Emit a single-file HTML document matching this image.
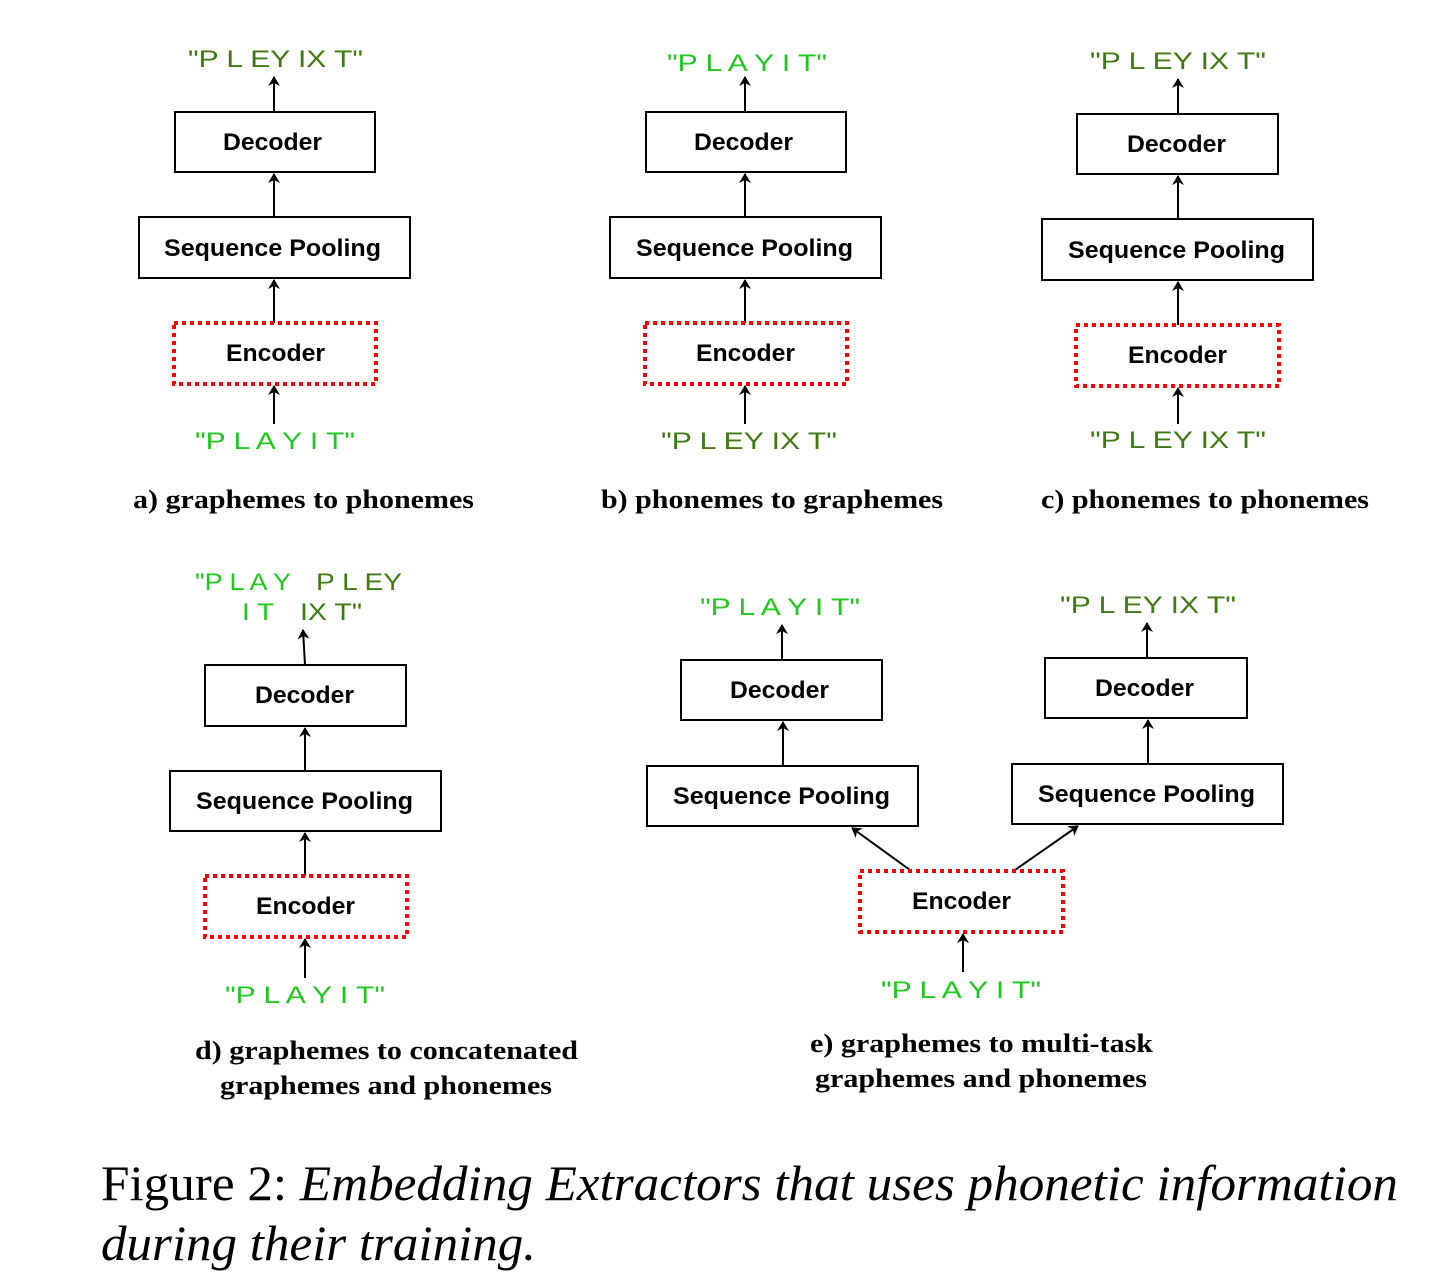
<!DOCTYPE html>
<html><head><meta charset="utf-8"><style>
html,body{margin:0;padding:0;background:#fff;width:1455px;height:1280px;overflow:hidden}
svg{display:block}
.bx{font-family:"Liberation Sans",sans-serif;font-weight:bold;font-size:24px;fill:#000}
.g{font-family:"Liberation Sans",sans-serif;font-size:24px;fill:#1ec81e}
.d{font-family:"Liberation Sans",sans-serif;font-size:24px;fill:#3f7a10}
.cap{font-family:"Liberation Serif",serif;font-weight:bold;font-size:26px;fill:#000}
.fig{font-family:"Liberation Serif",serif;font-size:50px;fill:#000}
</style></head><body>
<svg width="1455" height="1280" viewBox="0 0 1455 1280" xmlns="http://www.w3.org/2000/svg">
<defs><marker id="a" markerWidth="10" markerHeight="12" refX="9" refY="6" orient="auto" markerUnits="userSpaceOnUse"><path d="M0,0 L10,6 L0,12 L3,6 z" fill="#000"/></marker></defs>
<g fill="none" stroke="#000" stroke-width="2">
<!-- a -->
<rect x="175" y="112" width="200" height="60"/><rect x="139" y="217" width="271" height="61"/>
<line x1="274" y1="112" x2="274" y2="77" marker-end="url(#a)"/>
<line x1="274" y1="217" x2="274" y2="174" marker-end="url(#a)"/>
<line x1="274" y1="323" x2="274" y2="280" marker-end="url(#a)"/>
<line x1="274" y1="424" x2="274" y2="386" marker-end="url(#a)"/>
<!-- b -->
<rect x="646" y="112" width="200" height="60"/><rect x="610" y="217" width="271" height="61"/>
<line x1="745" y1="112" x2="745" y2="77" marker-end="url(#a)"/>
<line x1="745" y1="217" x2="745" y2="174" marker-end="url(#a)"/>
<line x1="745" y1="323" x2="745" y2="280" marker-end="url(#a)"/>
<line x1="745" y1="424" x2="745" y2="386" marker-end="url(#a)"/>
<!-- c -->
<rect x="1077" y="114" width="201" height="60"/><rect x="1042" y="219" width="271" height="61"/>
<line x1="1178" y1="114" x2="1178" y2="79" marker-end="url(#a)"/>
<line x1="1178" y1="219" x2="1178" y2="176" marker-end="url(#a)"/>
<line x1="1178" y1="325" x2="1178" y2="282" marker-end="url(#a)"/>
<line x1="1178" y1="424" x2="1178" y2="388" marker-end="url(#a)"/>
<!-- d -->
<rect x="205" y="665" width="201" height="61"/><rect x="170" y="771" width="271" height="60"/>
<line x1="305" y1="665" x2="303" y2="630" marker-end="url(#a)"/>
<line x1="305" y1="771" x2="305" y2="728" marker-end="url(#a)"/>
<line x1="305" y1="876" x2="305" y2="833" marker-end="url(#a)"/>
<line x1="305" y1="978" x2="305" y2="939" marker-end="url(#a)"/>
<!-- e -->
<rect x="681" y="660" width="201" height="60"/><rect x="647" y="766" width="271" height="60"/>
<rect x="1045" y="658" width="202" height="60"/><rect x="1012" y="764" width="271" height="60"/>
<line x1="782" y1="660" x2="782" y2="625" marker-end="url(#a)"/>
<line x1="783" y1="766" x2="783" y2="722" marker-end="url(#a)"/>
<line x1="1147" y1="658" x2="1147" y2="623" marker-end="url(#a)"/>
<line x1="1148" y1="764" x2="1148" y2="720" marker-end="url(#a)"/>
<line x1="910" y1="870" x2="852" y2="828" marker-end="url(#a)"/>
<line x1="1015" y1="870" x2="1078" y2="826" marker-end="url(#a)"/>
<line x1="963" y1="972" x2="963" y2="934" marker-end="url(#a)"/>
</g>
<g fill="none" stroke="#f00" stroke-width="4" stroke-dasharray="4,4">
<rect x="174" y="323" width="202" height="61"/>
<rect x="645" y="323" width="202" height="61"/>
<rect x="1076" y="325" width="203" height="61"/>
<rect x="205" y="876" width="202" height="61"/>
<rect x="860" y="871" width="203" height="61"/>
</g>
<g class="bx">
<text x="223" y="150" textLength="99" lengthAdjust="spacingAndGlyphs">Decoder</text>
<text x="164" y="256" textLength="217" lengthAdjust="spacingAndGlyphs">Sequence Pooling</text>
<text x="226" y="361" textLength="99" lengthAdjust="spacingAndGlyphs">Encoder</text>
<text x="694" y="150" textLength="99" lengthAdjust="spacingAndGlyphs">Decoder</text>
<text x="636" y="256" textLength="217" lengthAdjust="spacingAndGlyphs">Sequence Pooling</text>
<text x="696" y="361" textLength="99" lengthAdjust="spacingAndGlyphs">Encoder</text>
<text x="1127" y="152" textLength="99" lengthAdjust="spacingAndGlyphs">Decoder</text>
<text x="1068" y="258" textLength="217" lengthAdjust="spacingAndGlyphs">Sequence Pooling</text>
<text x="1128" y="363" textLength="99" lengthAdjust="spacingAndGlyphs">Encoder</text>
<text x="255" y="703" textLength="99" lengthAdjust="spacingAndGlyphs">Decoder</text>
<text x="196" y="809" textLength="217" lengthAdjust="spacingAndGlyphs">Sequence Pooling</text>
<text x="256" y="914" textLength="99" lengthAdjust="spacingAndGlyphs">Encoder</text>
<text x="730" y="698" textLength="99" lengthAdjust="spacingAndGlyphs">Decoder</text>
<text x="673" y="804" textLength="217" lengthAdjust="spacingAndGlyphs">Sequence Pooling</text>
<text x="1095" y="696" textLength="99" lengthAdjust="spacingAndGlyphs">Decoder</text>
<text x="1038" y="802" textLength="217" lengthAdjust="spacingAndGlyphs">Sequence Pooling</text>
<text x="912" y="909" textLength="99" lengthAdjust="spacingAndGlyphs">Encoder</text>
</g>
<g xml:space="preserve">
<text class="d" x="188" y="67" textLength="175" lengthAdjust="spacingAndGlyphs">"P  L  EY  IX  T"</text>
<text class="g" x="195" y="449" textLength="160" lengthAdjust="spacingAndGlyphs">"P L A Y    I T"</text>
<text class="g" x="667" y="71" textLength="160" lengthAdjust="spacingAndGlyphs">"P L A Y    I T"</text>
<text class="d" x="661" y="449" textLength="176" lengthAdjust="spacingAndGlyphs">"P  L  EY  IX  T"</text>
<text class="d" x="1090" y="69" textLength="176" lengthAdjust="spacingAndGlyphs">"P  L  EY  IX  T"</text>
<text class="d" x="1090" y="448" textLength="176" lengthAdjust="spacingAndGlyphs">"P  L  EY  IX  T"</text>
<text class="g" x="195" y="590" textLength="96" lengthAdjust="spacingAndGlyphs">"P L A Y</text>
<text class="d" x="316" y="590" textLength="86" lengthAdjust="spacingAndGlyphs">P L EY</text>
<text class="g" x="242" y="620" textLength="32" lengthAdjust="spacingAndGlyphs">I T</text>
<text class="d" x="300" y="620" textLength="62" lengthAdjust="spacingAndGlyphs">IX T"</text>
<text class="g" x="225" y="1003" textLength="160" lengthAdjust="spacingAndGlyphs">"P L A Y    I T"</text>
<text class="g" x="700" y="615" textLength="160" lengthAdjust="spacingAndGlyphs">"P L A Y    I T"</text>
<text class="d" x="1060" y="613" textLength="176" lengthAdjust="spacingAndGlyphs">"P  L  EY  IX  T"</text>
<text class="g" x="881" y="998" textLength="160" lengthAdjust="spacingAndGlyphs">"P L A Y    I T"</text>
</g>
<g class="cap">
<text x="133" y="508" textLength="341" lengthAdjust="spacingAndGlyphs">a) graphemes to phonemes</text>
<text x="601" y="508" textLength="342" lengthAdjust="spacingAndGlyphs">b) phonemes to graphemes</text>
<text x="1041" y="508" textLength="328" lengthAdjust="spacingAndGlyphs">c) phonemes to phonemes</text>
<text x="195" y="1059" textLength="383" lengthAdjust="spacingAndGlyphs">d) graphemes to concatenated</text>
<text x="220" y="1094" textLength="332" lengthAdjust="spacingAndGlyphs">graphemes and phonemes</text>
<text x="810" y="1052" textLength="343" lengthAdjust="spacingAndGlyphs">e) graphemes to multi-task</text>
<text x="815" y="1087" textLength="332" lengthAdjust="spacingAndGlyphs">graphemes and phonemes</text>
</g>
<text class="fig" x="101" y="1200" textLength="1297" lengthAdjust="spacingAndGlyphs">Figure 2: <tspan font-style="italic">Embedding Extractors that uses phonetic information</tspan></text>
<text class="fig" x="101" y="1260" font-style="italic" textLength="435" lengthAdjust="spacingAndGlyphs">during their training.</text>
</svg>
</body></html>
